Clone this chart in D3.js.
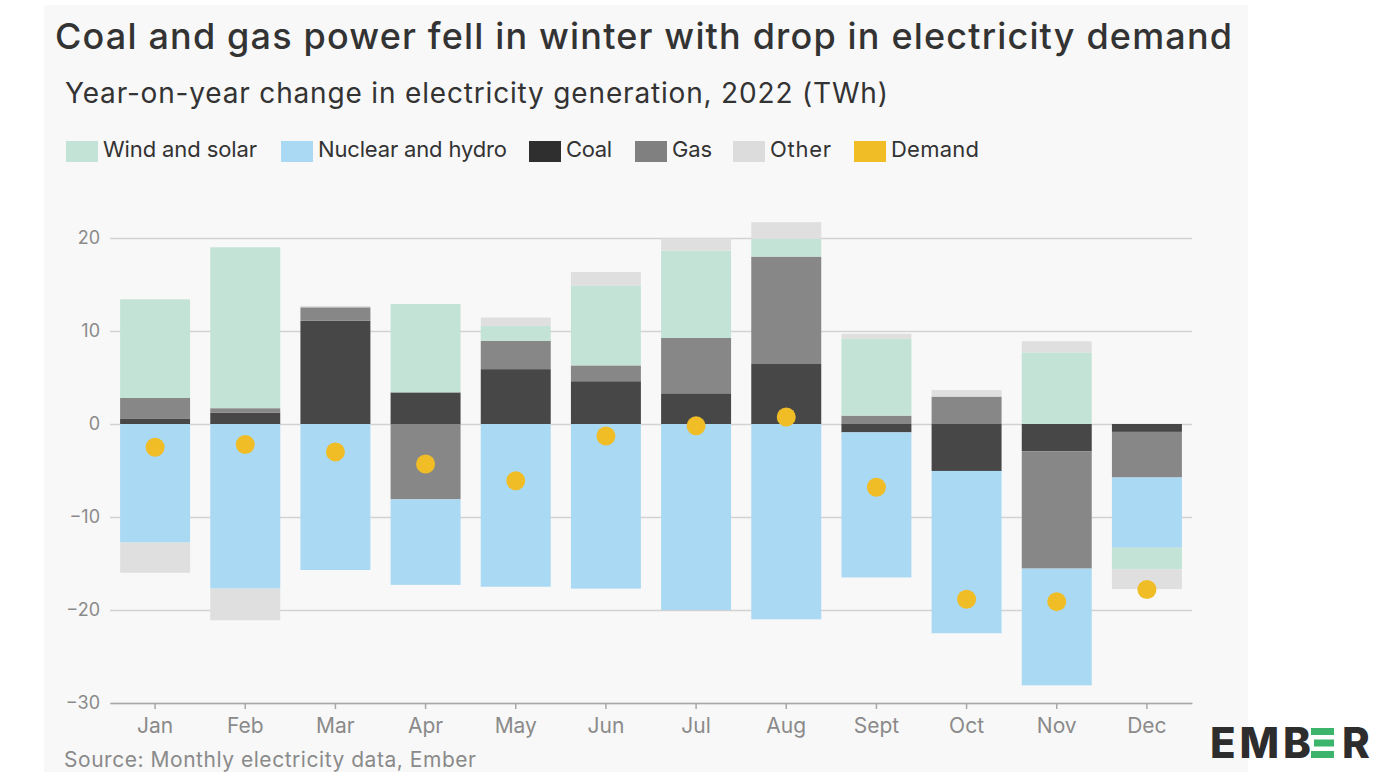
<!DOCTYPE html>
<html>
<head>
<meta charset="utf-8">
<script src="https://cdn.jsdelivr.net/npm/d3@7"></script>
<style>
  html, body { margin: 0; padding: 0; background: #ffffff; }
  svg { display: block; font-family: Inter, "Noto Sans", sans-serif; }
</style>
</head>
<body>
<svg id="chart" width="1375" height="778"></svg>
<script>
// ---- Data (TWh, year-on-year change, 2022) ----
const months = ["Jan","Feb","Mar","Apr","May","Jun","Jul","Aug","Sept","Oct","Nov","Dec"];
const windSolar    = [10.6, 17.3, 0, 9.5, 1.6, 8.6, 9.4, 1.9, 8.25, 0, 7.7, -2.3];
const nuclearHydro = [-12.75, -17.7, -15.7, -9.2, -17.5, -17.7, -20.0, -21.0, -15.6, -17.45, -12.55, -7.55];
const coal         = [0.6, 1.2, 11.1, 3.4, 5.9, 4.6, 3.3, 6.45, -0.9, -5.05, -2.95, -0.85];
const gas          = [2.2, 0.5, 1.45, -8.1, 3.05, 1.7, 5.95, 11.55, 0.9, 2.95, -12.6, -4.9];
const other        = [-3.25, -3.4, 0.15, 0, 0.9, 1.45, 1.3, 1.8, 0.55, 0.7, 1.2, -2.15];
const demand       = [-2.5, -2.2, -3.0, -4.3, -6.1, -1.3, -0.2, 0.75, -6.8, -18.85, -19.1, -17.8];
const yTicks = [-30, -20, -10, 0, 10, 20];
const legendLabels = ["Wind and solar", "Nuclear and hydro", "Coal", "Gas", "Other", "Demand"];

// ---- Styles ----
const barColor = { wind: "#c2e3d5", nuclear: "#aad9f3", coal: "#474747", gas: "#878787", other: "#dfdfdf" };
const legendColor = ["#c2e3d5", "#aad9f3", "#2f2f2f", "#808080", "#dcdcdc", "#f0bd27"];
const demandColor = "#f0bd27";

const table = months.map((m, i) => ({
  month: m, coal: coal[i], gas: gas[i], nuclear: nuclearHydro[i], wind: windSolar[i], other: other[i], demand: demand[i]
}));

const svg = d3.select("#chart");

// background panel
svg.append("rect").attr("x", 44).attr("y", 5).attr("width", 1204).attr("height", 767).attr("fill", "#f8f8f8");

function fitWidth(sel, target) {
  const node = sel.node();
  const w = node.getComputedTextLength();
  const n = node.textContent.length;
  if (n > 1) sel.attr("letter-spacing", ((target - w) / (n - 1)).toFixed(3));
}

// Title & subtitle
const title = svg.append("text").attr("x", 55).attr("y", 49)
  .attr("font-size", 36).attr("fill", "#333").attr("font-weight", 500)
  .text("Coal and gas power fell in winter with drop in electricity demand");
fitWidth(title, 1177);
const sub = svg.append("text").attr("x", 65).attr("y", 103)
  .attr("font-size", 28).attr("fill", "#333")
  .text("Year-on-year change in electricity generation, 2022 (TWh)");
fitWidth(sub, 823);

// Legend
const legendX = [66, 281, 529, 635, 733, 854];
const legendW = [154, 189, 46, 40, 61, 88];
const lg = svg.append("g");
legendLabels.forEach((lab, i) => {
  lg.append("rect").attr("x", legendX[i]).attr("y", 141).attr("width", 32).attr("height", 21).attr("fill", legendColor[i]);
  const t = lg.append("text").attr("x", legendX[i] + 37).attr("y", 157)
    .attr("font-size", 22).attr("fill", "#333").text(lab);
  fitWidth(t, legendW[i]);
});

// Scales
const x = d3.scaleBand().domain(months).range([110, 1192]).paddingInner(0.224).paddingOuter(0.112);
const y = d3.scaleLinear().domain([-30, 20]).range([703, 238]);

// Gridlines + y labels
const yAxis = svg.append("g").attr("transform", "translate(110,0)")
  .call(d3.axisLeft(y).tickValues(yTicks).tickSize(-1082).tickFormat(d => d < 0 ? "\u2212" + Math.abs(d) : d));
yAxis.select(".domain").remove();
yAxis.selectAll(".tick line").attr("stroke", "#d2d2d2").attr("stroke-width", 1.5);
yAxis.selectAll(".tick text").attr("x", -10).attr("font-size", 18).attr("fill", "#8a8a8a")
  .attr("font-family", "Inter, sans-serif");

// Stacked bars
const keys = ["coal", "gas", "nuclear", "wind", "other"];
const series = d3.stack().keys(keys).offset(d3.stackOffsetDiverging)(table);
svg.append("g").selectAll("g").data(series).join("g")
  .attr("fill", d => barColor[d.key])
  .selectAll("rect").data(d => d.filter(p => p[1] !== p[0])).join("rect")
  .attr("x", d => x(d.data.month))
  .attr("width", x.bandwidth())
  .attr("y", d => y(Math.max(d[0], d[1])))
  .attr("height", d => Math.abs(y(d[0]) - y(d[1])));

// Bottom axis
const xAxis = svg.append("g").attr("transform", "translate(0,703)")
  .call(d3.axisBottom(x).tickSize(6).tickSizeOuter(0));
xAxis.select(".domain").attr("stroke", "#a8a8a8").attr("stroke-width", 1.5);
xAxis.selectAll(".tick line").attr("stroke", "#a8a8a8").attr("stroke-width", 1.5);
xAxis.selectAll(".tick text").attr("y", 15).attr("dy", "0.71em").attr("font-size", 21).attr("fill", "#8a8a8a")
  .attr("font-family", "Inter, sans-serif");

// Demand dots
svg.append("g").selectAll("circle").data(table).join("circle")
  .attr("cx", d => x(d.month) + x.bandwidth() / 2)
  .attr("cy", d => y(d.demand))
  .attr("r", 9.5)
  .attr("fill", demandColor);

// Source
const src = svg.append("text").attr("x", 64).attr("y", 767).attr("font-size", 21).attr("fill", "#8a8a8a")
  .text("Source: Monthly electricity data, Ember");
fitWidth(src, 412);

// EMBER logo
const logo = svg.append("g");
const emb = logo.append("text").attr("x", 1210).attr("y", 758).attr("font-size", 42).attr("font-weight", 800)
  .attr("fill", "#2d2d2d").text("EMB");
fitWidth(emb, 101);
[[1311, 728, 23], [1314, 739.5, 20], [1311, 751, 23]].forEach(b => {
  logo.append("rect").attr("x", b[0]).attr("y", b[1]).attr("width", b[2]).attr("height", 7).attr("fill", "#3cb46c");
});
logo.append("text").attr("x", 1342).attr("y", 758).attr("font-size", 42).attr("font-weight", 800)
  .attr("fill", "#2d2d2d").text("R");
</script>
</body>
</html>
